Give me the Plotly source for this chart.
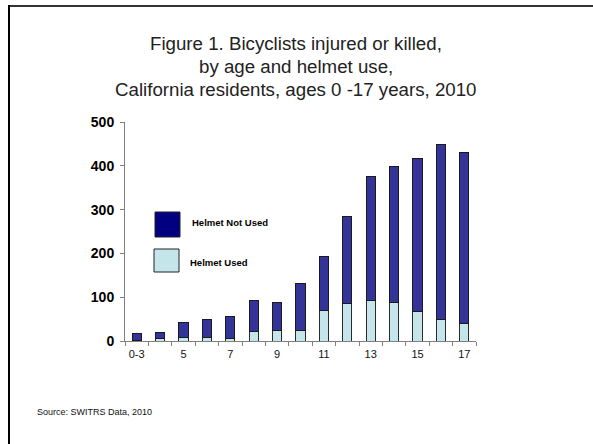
import plotly.graph_objects as go

# Age groups (years) and counts of injured or killed bicyclists
ages = ["0-3", "4", "5", "6", "7", "8", "9", "10", "11", "12", "13", "14", "15", "16", "17"]
helmet_used = [1, 6, 8, 8, 6, 22, 24, 25, 69, 86, 92, 89, 67, 49, 39]
helmet_not_used = [16, 14, 34, 42, 50, 70, 65, 106, 124, 198, 284, 309, 350, 399, 392]
age_labels = ["0-3", "", "5", "", "7", "", "9", "", "11", "", "13", "", "15", "", "17"]
y_ticks = [0, 100, 200, 300, 400, 500]
title_lines = [
    "Figure 1. Bicyclists injured or killed,",
    "by age and helmet use,",
    "California residents, ages 0 -17 years, 2010",
]

W, H = 593, 444
ML, MR, MT, MB = 125, 117, 122, 103
PW, PH = W - ML - MR, H - MT - MB


def px(x):
    return (x - ML) / PW


def py(y):
    return (H - MB - y) / PH


FONT = "Liberation Sans, Arial, sans-serif"
DARK = "#333399"
LIGHT = "#C4E5EA"

fig = go.Figure()
fig.add_trace(go.Bar(
    x=ages, y=helmet_used, name="Helmet Used",
    marker=dict(color=LIGHT, line=dict(color="#2a2a2a", width=1)),
))
fig.add_trace(go.Bar(
    x=ages, y=helmet_not_used, name="Helmet Not Used",
    marker=dict(color=DARK, line=dict(color="#1a1a1a", width=1)),
))

fig.update_layout(
    width=W, height=H,
    margin=dict(l=ML, r=MR, t=MT, b=MB),
    paper_bgcolor="white", plot_bgcolor="white",
    barmode="stack", bargap=0.6,
    showlegend=False,
    font=dict(family=FONT, color="#111"),
    xaxis=dict(
        type="category", tickmode="array", tickvals=ages, ticktext=age_labels,
        tickson="boundaries", ticks="outside", ticklen=4, tickcolor="#808080",
        tickangle=0, ticklabelstandoff=3,
        showline=True, linecolor="#808080", linewidth=1, showgrid=False,
        tickfont=dict(size=11, color="#111"),
    ),
    yaxis=dict(
        range=[0, 500], tickvals=y_ticks, ticks="outside", ticklen=4,
        tickcolor="#808080", showline=True, linecolor="#808080", linewidth=1,
        showgrid=False, zeroline=False, ticklabelstandoff=3,
        tickfont=dict(size=14, color="#000", family=FONT, weight="bold"),
    ),
)

# Title, one annotation per line
for i, line in enumerate(title_lines):
    fig.add_annotation(
        xref="paper", yref="paper", x=px(296), y=py(44 + 22.5 * i),
        xanchor="center", yanchor="middle", text=line, showarrow=False,
        font=dict(size=18.7, color="#222", family=FONT),
    )

# Legend boxes and labels
fig.add_shape(type="rect", xref="paper", yref="paper",
              x0=px(155), x1=px(180), y0=py(237), y1=py(212),
              fillcolor="#000080", line=dict(color="#222", width=1))
fig.add_shape(type="rect", xref="paper", yref="paper",
              x0=px(154), x1=px(179), y0=py(272), y1=py(249),
              fillcolor=LIGHT, line=dict(color="#222", width=1))
fig.add_annotation(xref="paper", yref="paper", x=px(190), y=py(222),
                   xanchor="left", yanchor="middle", showarrow=False,
                   text="<b>Helmet Not Used</b>", font=dict(size=9.5, color="#000", family=FONT))
fig.add_annotation(xref="paper", yref="paper", x=px(188), y=py(262),
                   xanchor="left", yanchor="middle", showarrow=False,
                   text="<b>Helmet Used</b>", font=dict(size=9.5, color="#000", family=FONT))

# Source note
fig.add_annotation(xref="paper", yref="paper", x=px(35), y=py(412),
                   xanchor="left", yanchor="middle", showarrow=False,
                   text="Source: SWITRS Data, 2010", font=dict(size=9, color="#111", family=FONT))

# Frame edges along the top and left
fig.add_shape(type="line", xref="paper", yref="paper",
              x0=px(8), x1=px(600), y0=py(6), y1=py(6),
              line=dict(color="#333", width=2))
fig.add_shape(type="line", xref="paper", yref="paper",
              x0=px(9), x1=px(9), y0=py(5), y1=py(450),
              line=dict(color="#000", width=2))

fig.write_html("out.html")
